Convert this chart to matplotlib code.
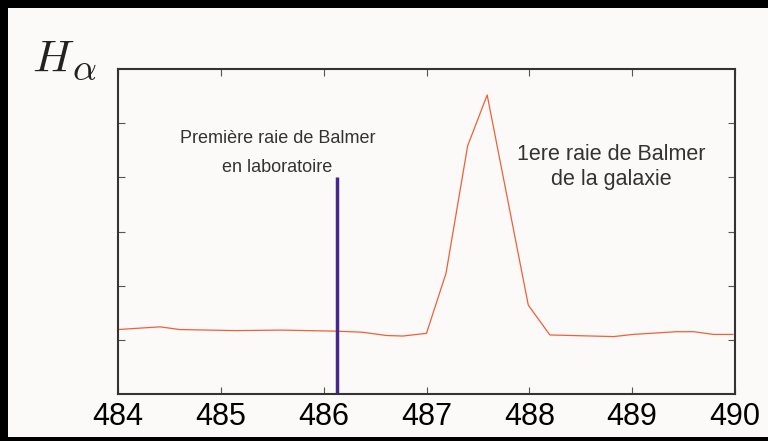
import matplotlib
matplotlib.use("Agg")
import matplotlib.pyplot as plt
from matplotlib.patches import Rectangle

# spectre autour de H-alpha
wavelength = [484.0, 484.41, 484.6, 485.15, 485.58, 486.13, 486.38, 486.61, 486.77,
              487.0, 487.19, 487.4, 487.59, 487.99, 488.2, 488.82, 489.01, 489.43,
              489.6, 489.79, 489.98]
intensity = [1.19, 1.24, 1.19, 1.17, 1.18, 1.16, 1.14, 1.08, 1.07,
             1.12, 2.23, 4.58, 5.52, 1.64, 1.09, 1.06, 1.10, 1.15,
             1.15, 1.10, 1.10]

lab_line = 486.13
lab_height = 4.0
xticks = [484, 485, 486, 487, 488, 489, 490]
yticks = [1, 2, 3, 4, 5]

plt.rcParams['mathtext.fontset'] = 'cm'
plt.rcParams['font.family'] = ['Liberation Sans', 'DejaVu Sans']

fig = plt.figure(figsize=(7.68, 4.41), dpi=100, facecolor='black')
fig.patches.append(Rectangle((8 / 768, 4 / 441), 760 / 768, 429 / 441,
                             transform=fig.transFigure, facecolor='#fbfaf8',
                             edgecolor='none', zorder=-10))

ax = fig.add_axes([118 / 768, 47 / 441, 617 / 768, 325 / 441])
ax.set_zorder(5)
ax.set_facecolor('#fbfaf8')
ax.plot(wavelength, intensity, color='#f0603a', lw=0.9)
ax.vlines(lab_line, 0, lab_height, color='#45288f', lw=2.5)

ax.set_xlim(484, 490)
ax.set_ylim(0, 6)
ax.set_xticks(xticks)
ax.set_yticks(yticks)
ax.set_yticklabels([])
ax.tick_params(direction='in', length=5, width=0.8, color='#555555',
               top=True, right=True, labelsize=22, pad=6)
for s in ax.spines.values():
    s.set_color('#333333')
    s.set_linewidth(1.5)

ax.text(485.55, 4.45, "Première raie de Balmer\nen laboratoire", ha='center',
        va='center', fontsize=13, color='#333333', linespacing=1.95)
ax.text(488.8, 4.19, "1ere raie de Balmer\nde la galaxie", ha='center',
        va='center', fontsize=15.5, color='#333333', linespacing=1.25)

fig.text(32 / 768, 1 - 72 / 441, r'$H$', fontsize=33, color='#222222',
         ha='left', va='baseline', zorder=6)
fig.text(72 / 768, 1 - 80 / 441, r'$\alpha$', fontsize=27, color='#222222',
         ha='left', va='baseline', zorder=6)

fig.savefig('out.png', dpi=100, facecolor='black')
